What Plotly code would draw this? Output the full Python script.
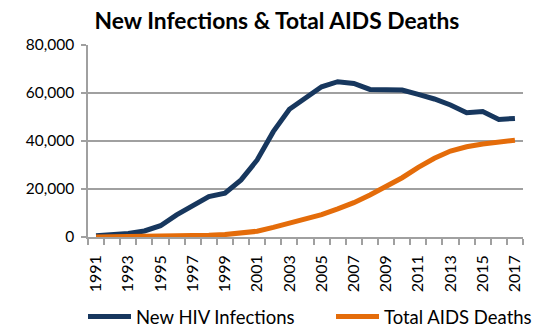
import plotly.graph_objects as go

years = list(range(1991, 2018))
new_infections = [500, 900, 1500, 2500, 4700, 9200, 13300, 16800, 18300, 23800,
                  32100, 43900, 53200, 58200, 62600, 64700, 64000, 61500, 61500,
                  61250, 59400, 57500, 55000, 51800, 52300, 49000, 49400]
aids_deaths = [0, 50, 100, 150, 250, 350, 500, 700, 1000, 1500,
               2400, 4000, 5800, 7300, 9300, 11700, 14300, 17500, 21000,
               24700, 29000, 32800, 35800, 37600, 38750, 39600, 40300]
label_years = list(range(1991, 2018, 2))

navy = "#17375E"
orange = "#E46C0A"
grid = "#a0a0a0"
font = "Lato"

fig = go.Figure()
fig.add_trace(go.Scatter(x=years, y=new_infections, mode="lines",
                         name="New HIV Infections", legend="legend",
                         line=dict(color=navy, width=5)))
fig.add_trace(go.Scatter(x=years, y=aids_deaths, mode="lines",
                         name="Total AIDS Deaths", legend="legend2",
                         line=dict(color=orange, width=5)))

W_PLOT = 546 - 88 - 23
H_PLOT = 329 - 45 - 92


def px_x(px):
    return (px - 88) / W_PLOT


def px_y(py):
    return (237 - py) / H_PLOT


leg_common = dict(orientation="h", xanchor="left", yanchor="middle",
                  font=dict(size=18.5, family=font), bgcolor="rgba(0,0,0,0)",
                  borderwidth=0, itemwidth=43)

fig.update_layout(
    width=546, height=329,
    margin=dict(l=88, r=23, t=45, b=92, autoexpand=False),
    paper_bgcolor="white", plot_bgcolor="white",
    font=dict(family=font, color="#000000", size=14),
    title=dict(text="<b>New Infections & Total AIDS Deaths</b>",
               x=277 / 546, xanchor="center", y=1 - 21 / 329, yanchor="middle",
               font=dict(size=22.8, family=font, color="#000000")),
    showlegend=True,
    legend=dict(x=px_x(83), y=px_y(317), **leg_common),
    legend2=dict(x=px_x(331), y=px_y(317), **leg_common),
    xaxis=dict(range=[1990.5, 2017.5], tickmode="array",
               tickvals=label_years, ticktext=[str(y) for y in label_years],
               tickangle=-90, ticks="", showgrid=False, zeroline=False,
               automargin=False, ticklabelstandoff=10,
               showline=True, linecolor=grid, linewidth=1.5,
               tickfont=dict(size=16, family=font),
               minor=dict(ticks="outside", tick0=1990.5, dtick=1,
                          ticklen=6, tickcolor=grid, tickwidth=1.5,
                          showgrid=False)),
    yaxis=dict(range=[0, 80000], tickmode="linear", tick0=0, dtick=20000,
               tickformat=",d", showgrid=True, gridcolor=grid, gridwidth=1.5,
               zeroline=False, showline=True, linecolor=grid, linewidth=1.5,
               automargin=False, ticklabelstandoff=4,
               ticks="outside", ticklen=5, tickcolor=grid, tickwidth=1.5,
               tickfont=dict(size=15.5, family=font)),
)

fig.write_html("out.html")
